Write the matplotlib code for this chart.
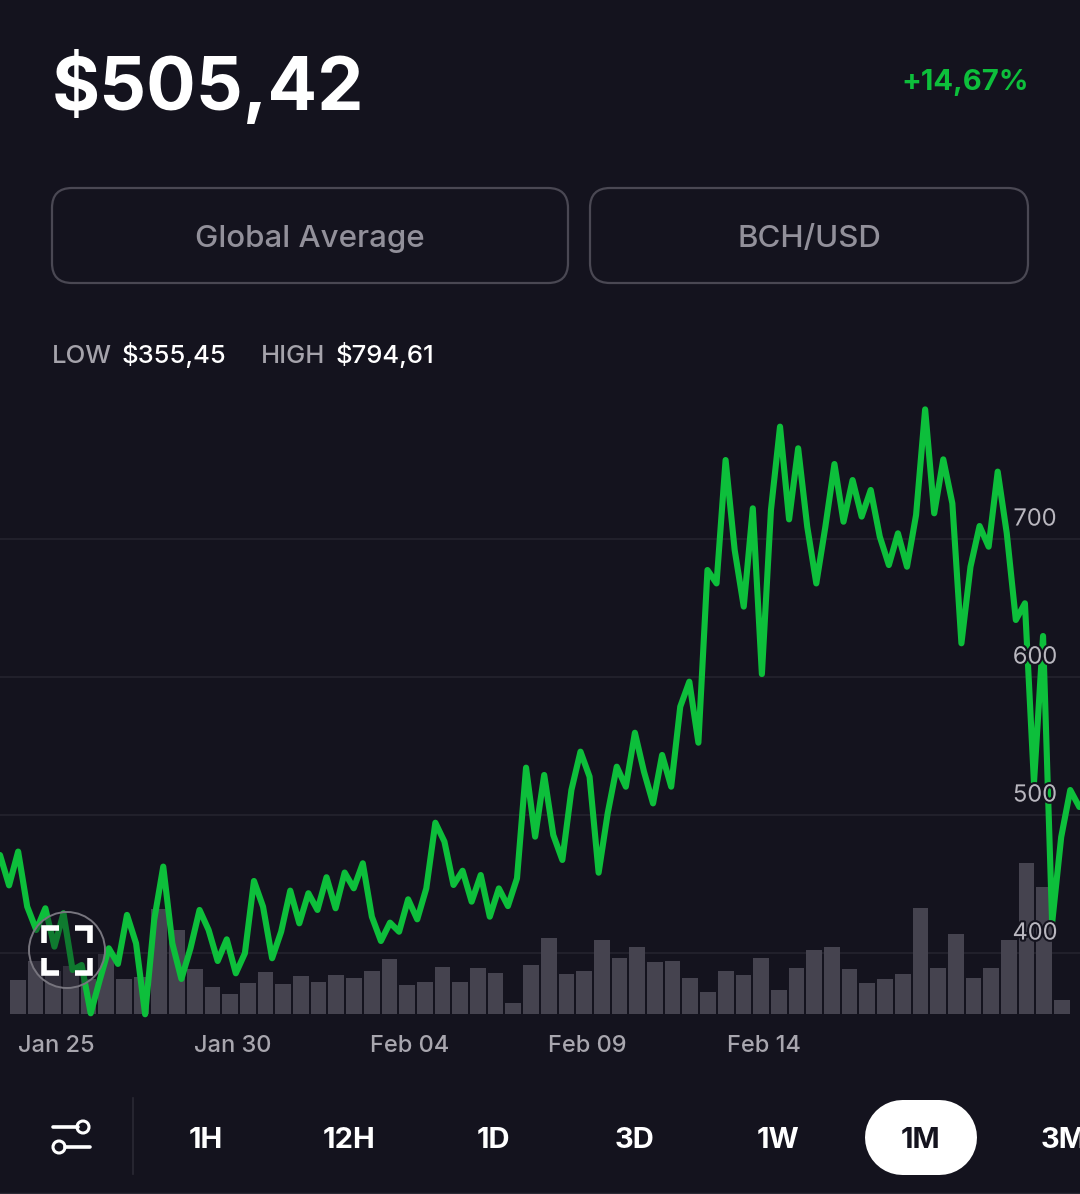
import matplotlib
matplotlib.use("Agg")
import matplotlib.pyplot as plt
import matplotlib.patheffects as pe
from matplotlib.patches import FancyBboxPatch, Circle
from matplotlib.transforms import ScaledTranslation

plt.rcParams['font.family'] = ['Inter', 'Lato', 'DejaVu Sans']

BG = '#14131e'
GREEN = '#0dbf3b'
W, H = 1080, 1194

# price points
prices = [
    471, 449, 473.5, 433.6, 416.7, 432.4, 404.6, 428.8, 387.7, 391.3,
    356.3, 380.5, 403.4, 392.1, 427.6, 407, 355.6, 424, 462.6, 407,
    381.2, 403.4, 431.2, 416.7, 394.2, 409.9, 385.3, 399.8, 452.2, 433.6,
    396.2, 415.5, 445.2, 421.5, 443.3, 431.2, 454.9, 432.4, 458.3, 446.9,
    465, 426.3, 408.7, 422, 415.4, 438.9, 424.4, 446.8, 494.4, 480.7,
    449.3, 459.6, 437.2, 456.5, 426.3, 446.8, 434, 454.1, 534.3, 484.3,
    529, 485.5, 467.4, 518.1, 545.9, 527.8, 458.2, 501.2, 535, 520.5,
    559.6, 531.4, 508.4, 543.5, 520.5, 578.5, 596.6, 552.4, 677.5, 667.8,
    757.2, 692, 651, 722.2, 602.1, 721, 781.4, 714.2, 765.7, 708.9,
    667.8, 708.9, 754.3, 712.5, 742.7, 716.2, 735.5, 701.7, 681.1, 704.1,
    679.9, 717.4, 793.9, 718.6, 757.7, 725.8, 624.4, 679.9, 709.4, 694.4,
    748.8, 704.1, 641.3, 653.4, 523.2, 629.7, 421.7, 484, 518.1, 505.8,
]
volumes = [
    34, 53, 43, 48, 35, 60, 35, 37, 105, 84,
    45, 27, 20, 31, 42, 30, 38, 32, 39, 36,
    43, 55, 29, 32, 47, 32, 46, 41, 11, 49,
    76, 40, 43, 74, 56, 67, 52, 53, 36, 22,
    43, 39, 56, 24, 46, 64, 67, 45, 31, 35,
    40, 106, 46, 80, 36, 46, 74, 151, 127, 14,
]
date_ticks = [2, 12, 22, 32, 42]
date_labels = ['Jan 25', 'Jan 30', 'Feb 04', 'Feb 09', 'Feb 14']
price_ticks = [400, 500, 600, 700]
periods = ['1H', '12H', '1D', '3D', '1W', '1M']
period_x = [206, 349, 493, 635, 778, 920]

fig = plt.figure(figsize=(W / 100, H / 100), dpi=100, facecolor=BG)

# chart area runs from y=400 to y=1014 in picture pixels
rect = [0, 1 - 1014 / H, 1, 614 / H]
PRICE_LIM = (355.8, 800.7)

ax_grid = fig.add_axes(rect, zorder=1)
ax_grid.set_facecolor(BG)
ax_grid.set_xlim(0, 1)
ax_grid.set_ylim(*PRICE_LIM)
ax_grid.set_xticks([])
ax_grid.set_yticks(price_ticks)
ax_grid.tick_params(length=0, labelleft=False)
ax_grid.grid(axis='y', color='#262530', lw=1.1)
ax_grid.set_axisbelow(True)
for s in ax_grid.spines.values():
    s.set_visible(False)

ax_vol = fig.add_axes(rect, zorder=2)
ax_vol.patch.set_visible(False)
ax_vol.bar(range(len(volumes)), volumes, width=0.89, color='#45434f')
ax_vol.set_xlim(-1, W / 17.7 - 1)
ax_vol.set_ylim(0, 614)
ax_vol.set_yticks([])
ax_vol.set_xticks(date_ticks)
ax_vol.set_xticklabels(date_labels, fontsize=17, color='#a8a6ae', fontweight='medium')
ax_vol.tick_params(axis='x', length=0, pad=15)
# labels sit a little right of their ticks in the app
for t in ax_vol.get_xticklabels():
    t.set_transform(t.get_transform() + ScaledTranslation(3 / 100, 0, fig.dpi_scale_trans))
for s in ax_vol.spines.values():
    s.set_visible(False)

ax_price = fig.add_axes(rect, zorder=3)
ax_price.patch.set_visible(False)
ax_price.plot(range(len(prices)), prices, color=GREEN, lw=4.4, solid_joinstyle='round',
              solid_capstyle='round', clip_on=False)
ax_price.set_xlim(0, W / 9.07)
ax_price.set_ylim(*PRICE_LIM)
ax_price.axis('off')
for p in price_ticks:
    ax_price.annotate(str(p), xy=(1, p), xycoords=ax_price.get_yaxis_transform(),
                      xytext=(-45 * 0.72, 14), textcoords='offset points',
                      ha='center', va='center', fontsize=17, color='#b9b7bf', zorder=5,
                      path_effects=[pe.withStroke(linewidth=3, foreground=BG)])

# everything else sits on a pixel-sized overlay
ui = fig.add_axes([0, 0, 1, 1], zorder=5)
ui.patch.set_visible(False)
ui.set_xlim(0, W)
ui.set_ylim(H, 0)
ui.axis('off')

ui.text(52, 110, '$505,42', fontsize=53, fontweight='bold', color='white', ha='left', va='baseline')
ui.text(1029, 82, '+14,67%', fontsize=21, fontweight='bold', color=GREEN, ha='right', va='center')

for x0, x1, label in [(52, 568, 'Global Average'), (590, 1028, 'BCH/USD')]:
    ui.add_patch(FancyBboxPatch((x0 + 20, 188 + 20), x1 - x0 - 40, 95 - 40,
                                boxstyle='round,pad=20,rounding_size=20',
                                fc='none', ec='#4a4853', lw=1.6))
    ui.text((x0 + x1) / 2, 247, label, fontsize=22.5, color='#92909a', ha='center', va='baseline',
            fontweight='medium')

ui.text(52, 363, 'LOW', fontsize=18.5, color='#a5a3ab', ha='left', va='baseline', fontweight='medium')
ui.text(122, 363, '$355,45', fontsize=18.5, color='white', ha='left', va='baseline', fontweight='medium')
ui.text(261, 363, 'HIGH', fontsize=18.5, color='#a5a3ab', ha='left', va='baseline', fontweight='medium')
ui.text(336, 363, '$794,61', fontsize=18.5, color='white', ha='left', va='baseline', fontweight='medium')

# fullscreen button
ui.add_patch(Circle((67, 950), 38, fc=BG, ec='none', alpha=0.4))
ui.add_patch(Circle((67, 950), 38, fc='none', ec='#77757e', lw=1.4))
for cx, cy, dx, dy in [(44, 928, 1, 1), (90, 928, -1, 1), (44, 973, 1, -1), (90, 973, -1, -1)]:
    ui.plot([cx + 15 * dx, cx, cx], [cy, cy, cy + 15 * dy], color='white', lw=4,
            solid_joinstyle='miter', solid_capstyle='butt')

# period bar
ui.plot([133, 133], [1098, 1174], color='#2a2934', lw=1.2)
ui.plot([902, 939], [1137, 1137], color='white', lw=75 * 0.72, solid_capstyle='round')
for label, x in zip(periods, period_x):
    ui.text(x, 1148, label, fontsize=21, fontweight='bold', ha='center', va='baseline',
            color=BG if label == '1M' else 'white')
ui.text(1041, 1148, '3M', fontsize=21, fontweight='bold', ha='left', va='baseline', color='white')

# filter icon
ui.plot([53, 78], [1127, 1127], color='white', lw=2.6, solid_capstyle='round')
ui.plot([65, 90], [1147, 1147], color='white', lw=2.6, solid_capstyle='round')
ui.add_patch(Circle((83, 1127), 6, fc=BG, ec='white', lw=2.2))
ui.add_patch(Circle((59, 1147), 6, fc=BG, ec='white', lw=2.2))

ui.plot([0, W], [1192.5, 1192.5], color='#2a2934', lw=1)

fig.savefig('out.png', dpi=100, facecolor=BG)
